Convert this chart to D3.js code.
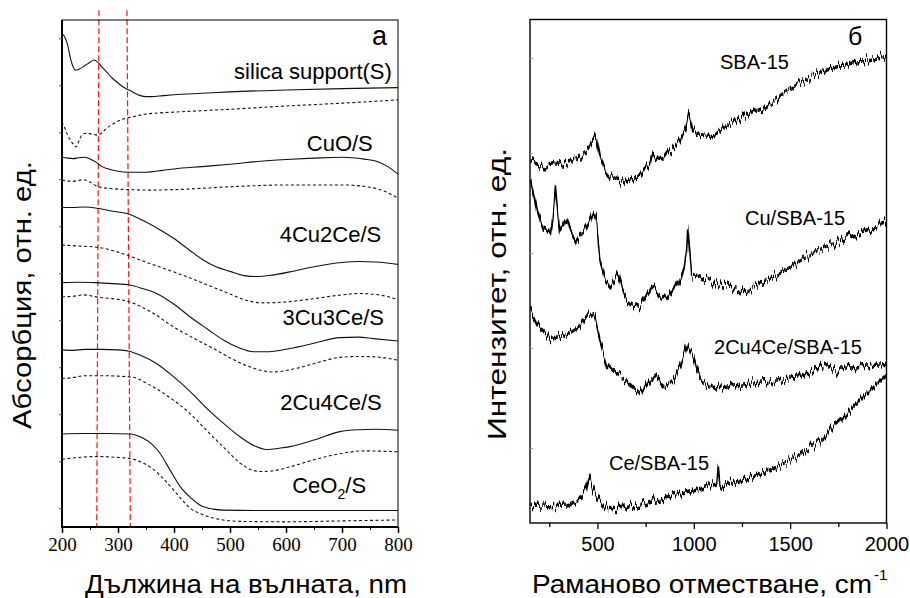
<!DOCTYPE html>
<html><head><meta charset="utf-8">
<script src="https://cdn.jsdelivr.net/npm/d3@7"></script>
<style>body{margin:0;background:#fff}svg{display:block}</style>
</head><body>
<script>
// ---------- Panel a: UV-vis (wavelength nm, relative absorbance) ----------
const uvSamples = ["silica support(S)","CuO/S","4Cu2Ce/S","3Cu3Ce/S","2Cu4Ce/S","CeO2/S"];
const silicaSolidX = [200,205,210,215,220,225,230,240,250,257,262,270,280,290,300,310,320,330,340,350,360,380,400,450,500,600,700,800];
const silicaSolidY = [100.9,100.3,98.6,95.8,93.9,93.2,93.4,94.1,94.9,95.4,95.1,94.1,92.8,91.5,90.5,89.6,89.0,88.3,87.8,87.6,87.6,87.8,88.0,88.3,88.6,89.0,89.3,89.5];
const silicaDashX = [200,205,210,215,220,225,230,237,245,255,263,270,280,290,300,315,330,350,370,400,450,500,600,700,800];
const silicaDashY = [82.2,80.9,79.4,78.3,77.5,76.9,78.1,79.6,79.8,79.6,79.4,79.8,80.9,81.7,82.4,83.0,83.4,83.9,84.1,84.3,84.6,84.9,85.6,86.2,86.9];
const cuoSolidX = [200,210,220,230,240,250,260,270,280,300,320,350,380,400,450,500,550,600,650,700,740,760,780,800];
const cuoSolidY = [74.7,74.5,74.4,74.6,74.7,74.3,73.7,72.8,72.3,71.7,71.5,71.5,71.9,72.2,72.7,73.2,73.8,74.2,74.5,74.7,74.3,73.9,72.8,71.1];
const cuoDashX = [200,220,238,250,265,290,320,360,400,500,600,700,750,775,800];
const cuoDashY = [69.8,69.6,69.9,69.4,68.4,68.0,67.8,67.7,67.8,68.4,68.8,68.8,68.3,67.5,66.0];
const c42SolidX = [200,220,238,265,290,316,340,370,400,430,450,475,500,525,548,575,607,650,700,730,760,780,800];
const c42SolidY = [64.0,64.0,64.1,63.8,63.2,62.7,61.5,59.6,57.4,54.7,53.0,51.4,50.4,49.5,49.3,49.6,50.3,51.4,52.3,52.5,52.4,52.2,51.9];
const c42DashX = [200,230,265,300,340,380,420,460,500,530,560,600,650,700,730,760,800];
const c42DashY = [56.0,55.8,55.5,54.5,52.8,51.1,49.4,47.5,45.6,44.2,43.7,43.9,44.6,45.4,45.7,45.5,44.4];
const c33SolidX = [200,230,260,290,321,345,369,400,429,460,488,515,542,570,607,650,696,730,756,800];
const c33SolidY = [48.0,48.1,48.0,47.8,47.5,46.7,45.7,43.4,40.7,38.1,35.8,34.2,33.3,33.3,34.0,35.1,36.3,36.4,36.1,35.6];
const c33DashX = [200,220,238,265,290,321,360,399,435,470,505,542,577,620,660,696,730,760,800];
const c33DashY = [45.0,45.1,45.4,44.9,44.6,43.9,41.7,38.6,36.2,34.0,31.7,29.8,29.0,29.8,31.1,32.1,32.3,32.2,31.5];
const c24SolidX = [200,220,240,270,300,320,339,370,399,430,458,490,518,545,565,590,607,650,696,730,760,800];
const c24SolidY = [33.7,33.6,33.8,33.8,33.7,33.4,32.6,30.7,28.0,24.7,21.3,17.9,15.2,13.2,12.5,12.8,13.1,14.5,16.3,16.7,16.8,16.6];
const c24DashX = [200,220,240,270,300,325,360,399,430,458,490,518,540,554,580,607,650,696,740,800];
const c24DashY = [27.6,27.8,28.2,28.2,28.1,27.9,26.0,23.0,20.0,16.6,12.8,9.6,8.1,7.8,8.0,8.8,10.3,11.6,12.2,12.0];
const ceoSolidX = [200,240,280,321,345,360,375,393,411,430,446,470,488,550,650,800];
const ceoSolidY = [15.8,15.9,15.9,15.8,14.9,13.7,11.7,8.1,4.6,2.2,0.7,-0.2,-0.4,-0.5,-0.5,-0.5];
const ceoDashX = [200,230,262,300,321,340,357,380,399,415,429,450,470,518,600,700,800];
const ceoDashY = [10.4,10.8,11.0,10.8,10.6,9.9,8.8,6.4,3.9,1.7,0.0,-1.3,-2.1,-2.8,-2.9,-2.7,-2.5];
const uvLabelX = [789,755,770,775,771,743];
const uvLabelY = [91.3,76.0,56.6,39.0,20.9,3.2];
const uvTicksX = [200,300,400,500,600,700,800];
const uvMinorX = [250,350,450,550,650,750];
const uvTicksY = [0,10,20,30,40,50,60,70,80,90,100];
const redLineTop = [266,316];
const redLineBottom = [262,322];

// ---------- Panel б: Raman (shift cm-1, relative intensity) ----------
const ramanSamples = ["SBA-15","Cu/SBA-15","2Cu4Ce/SBA-15","Ce/SBA-15"];
const sbaX = [153,200,254,320,392,440,461,491,513,540,565,600,634,680,721,770,790,815,842,880,928,955,975,995,1015,1060,1101,1150,1205,1290,1378,1460,1551,1638,1720,1811,1900,2000];
const sbaY = [72.3,71.6,71.3,72.0,72.6,74.0,75.3,77.6,73.3,70.4,69.3,68.6,68.3,69.0,69.6,71.5,73.9,72.8,72.6,74.6,76.6,78.6,82.3,78.6,77.9,77.4,77.3,79.0,80.3,81.8,83.3,85.6,87.9,89.8,91.0,91.9,92.6,93.3];
const cuX = [153,190,219,254,270,283,295,306,325,340,365,392,440,478,495,513,540,565,590,608,630,652,690,721,760,790,825,859,895,928,950,963,968,975,989,1030,1080,1119,1200,1275,1330,1378,1460,1551,1640,1724,1810,1897,2000];
const cuY = [68.3,62.2,58.6,58.0,61.6,67.0,61.6,58.6,59.6,60.6,58.2,56.6,59.0,62.3,60.6,52.6,48.6,47.3,48.6,49.9,46.6,44.6,43.6,43.3,45.6,47.3,45.6,44.6,46.6,48.6,51.0,54.6,59.0,55.6,49.9,49.0,48.6,48.2,47.2,46.3,47.6,48.3,50.2,52.4,54.2,55.9,57.4,58.6,59.9];
const cuceX = [153,185,254,340,410,452,487,513,548,600,652,721,790,842,894,930,963,997,1033,1101,1205,1378,1551,1690,1724,1897,2000];
const cuceY = [42.6,39.9,36.9,37.6,39.3,41.9,41.3,36.6,31.9,30.0,28.6,25.9,29.6,27.3,28.6,31.5,35.6,33.3,28.6,26.9,27.6,28.3,29.3,31.3,30.3,31.6,31.9];
const ceX = [153,340,410,440,458,475,496,548,634,773,946,1119,1127,1136,1292,1421,1551,1681,1811,1914,2000];
const ceY = [3.3,3.6,4.6,6.5,9.3,7.0,5.3,2.9,2.9,4.3,5.9,7.6,11.6,7.3,9.0,11.0,13.6,17.6,22.6,26.6,29.9];
const ramanLabelX = [1136,1266,1105,560];
const ramanLabelY = [90.8,59.6,33.8,10.6];
const ramanTicksX = [500,1000,1500,2000];
const ramanMinorX = [250,750,1250,1750];
const ramanTicksY = [15,35,54,74,93];

const W = 910, H = 598;
const svg = d3.select("body").append("svg").attr("width", W).attr("height", H)
  .style("font-family", "'Liberation Sans', Arial, sans-serif");

// detector-noise texture for the Raman traces (rendering effect only)
const defs = svg.append("defs");
const flt = defs.append("filter").attr("id", "noise")
  .attr("x", "-2%").attr("y", "-30%").attr("width", "104%").attr("height", "160%")
  .attr("color-interpolation-filters", "sRGB");
flt.append("feTurbulence").attr("type", "fractalNoise").attr("baseFrequency", "0.5 0.015")
  .attr("numOctaves", 2).attr("seed", 7).attr("result", "turb");
flt.append("feColorMatrix").attr("in", "turb").attr("type", "matrix")
  .attr("values", "0 0 0 0 0.5  1 0 0 0 0  0 0 0 0 0  0 0 0 0 1").attr("result", "map");
flt.append("feDisplacementMap").attr("in", "SourceGraphic").attr("in2", "map")
  .attr("scale", 18).attr("xChannelSelector", "R").attr("yChannelSelector", "G").attr("result", "disp");
flt.append("feMorphology").attr("in", "disp").attr("operator", "dilate").attr("radius", "0 1");

// ---------- Panel a ----------
const xL = d3.scaleLinear().domain([200, 800]).range([62, 398]);
const yL = d3.scaleLinear().domain([-4, 103.9]).range([527, 20]);
const gL = svg.append("g");

redLineTop.forEach((t, i) => {
  gL.append("line")
    .attr("x1", xL(t)).attr("y1", yL(106))
    .attr("x2", xL(redLineBottom[i])).attr("y2", yL(-4))
    .attr("stroke", "#ff1010").attr("stroke-width", 1.2).attr("stroke-dasharray", "6,3");
});

const lineL = d3.line().x(d => xL(d[0])).y(d => yL(d[1])).curve(d3.curveMonotoneX);
const uvSeries = [
  [silicaSolidX, silicaSolidY, false], [silicaDashX, silicaDashY, true],
  [cuoSolidX, cuoSolidY, false], [cuoDashX, cuoDashY, true],
  [c42SolidX, c42SolidY, false], [c42DashX, c42DashY, true],
  [c33SolidX, c33SolidY, false], [c33DashX, c33DashY, true],
  [c24SolidX, c24SolidY, false], [c24DashX, c24DashY, true],
  [ceoSolidX, ceoSolidY, false], [ceoDashX, ceoDashY, true]
];
uvSeries.forEach(([xs, ys, dash]) => {
  gL.append("path").datum(xs.map((x, i) => [x, ys[i]]))
    .attr("d", lineL).attr("fill", "none").attr("stroke", "#111")
    .attr("stroke-width", 1.1).attr("stroke-dasharray", dash ? "3,2.5" : null);
});

gL.append("rect").attr("x", xL(200)).attr("y", yL(103.9)).attr("width", xL(800) - xL(200))
  .attr("height", yL(-4) - yL(103.9)).attr("fill", "none").attr("stroke", "#000").attr("stroke-width", 1);
gL.append("line").attr("x1", xL(200)).attr("x2", xL(200)).attr("y1", yL(103.9)).attr("y2", yL(-4) + 1)
  .attr("stroke", "#000").attr("stroke-width", 2);
gL.append("line").attr("x1", xL(200) - 1).attr("x2", xL(800)).attr("y1", yL(-4)).attr("y2", yL(-4))
  .attr("stroke", "#000").attr("stroke-width", 2);

const axL = gL.append("g").attr("transform", `translate(0,${yL(-4)})`)
  .call(d3.axisBottom(xL).tickValues(uvTicksX).tickSize(6).tickPadding(5).tickFormat(d3.format("d")));
axL.select(".domain").remove();
axL.selectAll("line").attr("stroke-width", 1.5);
axL.selectAll("text").attr("font-family", "'Liberation Serif','Times New Roman',serif")
  .attr("font-size", 19).attr("fill", "#000");
const axLm = gL.append("g").attr("transform", `translate(0,${yL(-4)})`)
  .call(d3.axisBottom(xL).tickValues(uvMinorX).tickSize(3).tickFormat(""));
axLm.select(".domain").remove();
const ayL = gL.append("g").attr("transform", `translate(${xL(200)},0)`)
  .call(d3.axisLeft(yL).tickValues(uvTicksY).tickSize(3).tickFormat(""));
ayL.select(".domain").remove();
ayL.selectAll("line").attr("stroke", "#555");

uvSamples.forEach((s, i) => {
  const t = gL.append("text").attr("x", xL(uvLabelX[i])).attr("y", yL(uvLabelY[i]))
    .attr("text-anchor", "end").attr("font-size", 22).attr("fill", "#000");
  if (s === "CeO2/S") {
    t.append("tspan").text("CeO");
    t.append("tspan").attr("font-size", 14).attr("dy", 6).text("2");
    t.append("tspan").attr("dy", -6).text("/S");
  } else t.text(s);
});
gL.append("text").attr("x", xL(753.6)).attr("y", yL(98.6)).attr("font-size", 27).text("а");

gL.append("text").attr("x", 246).attr("y", 593).attr("text-anchor", "middle")
  .attr("font-size", 25).attr("textLength", 322).attr("lengthAdjust", "spacingAndGlyphs")
  .text("Дължина на вълната, nm");
gL.append("text").attr("transform", "translate(31,295) rotate(-90)").attr("text-anchor", "middle")
  .attr("font-size", 25).attr("textLength", 268).attr("lengthAdjust", "spacingAndGlyphs")
  .text("Абсорбция, отн. ед.");

// ---------- Panel б ----------
const xR = d3.scaleLinear().domain([150, 2000]).range([530, 886.5]);
const yR = d3.scaleLinear().domain([0, 100.7]).range([523, 19.5]);
const gR = svg.append("g");
const clip = defs.append("clipPath").attr("id", "clipR");
clip.append("rect").attr("x", xR(150)).attr("y", yR(100.7)).attr("width", xR(2000) - xR(150)).attr("height", yR(0) - yR(100.7));
const lineR = d3.line().x(d => xR(d[0])).y(d => yR(d[1])).curve(d3.curveLinear);
const gLines = gR.append("g").attr("clip-path", "url(#clipR)").append("g").attr("filter", "url(#noise)");
[[sbaX, sbaY], [cuX, cuY], [cuceX, cuceY], [ceX, ceY]].forEach(([xs, ys]) => {
  gLines.append("path").datum(xs.map((x, i) => [x, ys[i]]))
    .attr("d", lineR).attr("fill", "none").attr("stroke", "#000").attr("stroke-width", 1.4)
    .attr("stroke-linejoin", "round");
});
gR.append("rect").attr("x", xR(150)).attr("y", yR(100.7)).attr("width", xR(2000) - xR(150))
  .attr("height", yR(0) - yR(100.7)).attr("fill", "none").attr("stroke", "#000").attr("stroke-width", 1.4);
const axR = gR.append("g").attr("transform", `translate(0,${yR(0)})`)
  .call(d3.axisBottom(xR).tickValues(ramanTicksX).tickSize(6).tickPadding(8).tickFormat(d3.format("d")));
axR.select(".domain").remove();
axR.selectAll("line").attr("stroke-width", 1.3);
axR.selectAll("text").attr("font-family", "'Liberation Sans', Arial, sans-serif")
  .attr("font-size", 20).attr("fill", "#000");
const axRm = gR.append("g").attr("transform", `translate(0,${yR(0)})`)
  .call(d3.axisBottom(xR).tickValues(ramanMinorX).tickSize(4).tickFormat(""));
axRm.select(".domain").remove();
axRm.selectAll("line").attr("stroke-width", 1.3);
const ayR = gR.append("g").attr("transform", `translate(${xR(150)},0)`)
  .call(d3.axisRight(yR).tickValues(ramanTicksY).tickSize(3).tickFormat(""));
ayR.select(".domain").remove();
ayR.selectAll("line").attr("stroke", "#999");

ramanSamples.forEach((s, i) => {
  gR.append("text").attr("x", xR(ramanLabelX[i])).attr("y", yR(ramanLabelY[i]))
    .attr("font-size", 20).attr("fill", "#000").text(s);
});
gR.append("text").attr("x", xR(1800)).attr("y", yR(95.6)).attr("font-size", 25).text("б");

const tR = gR.append("text").attr("x", 532).attr("y", 593).attr("font-size", 25);
tR.append("tspan").attr("textLength", 340).attr("lengthAdjust", "spacingAndGlyphs").text("Раманово отместване, cm");
tR.append("tspan").attr("font-size", 15).attr("dy", -13).attr("dx", 2).text("-1");
gR.append("text").attr("transform", "translate(506,294) rotate(-90)").attr("text-anchor", "middle")
  .attr("font-size", 25).attr("textLength", 292).attr("lengthAdjust", "spacingAndGlyphs")
  .text("Интензитет, отн. ед.");
</script>
</body></html>
